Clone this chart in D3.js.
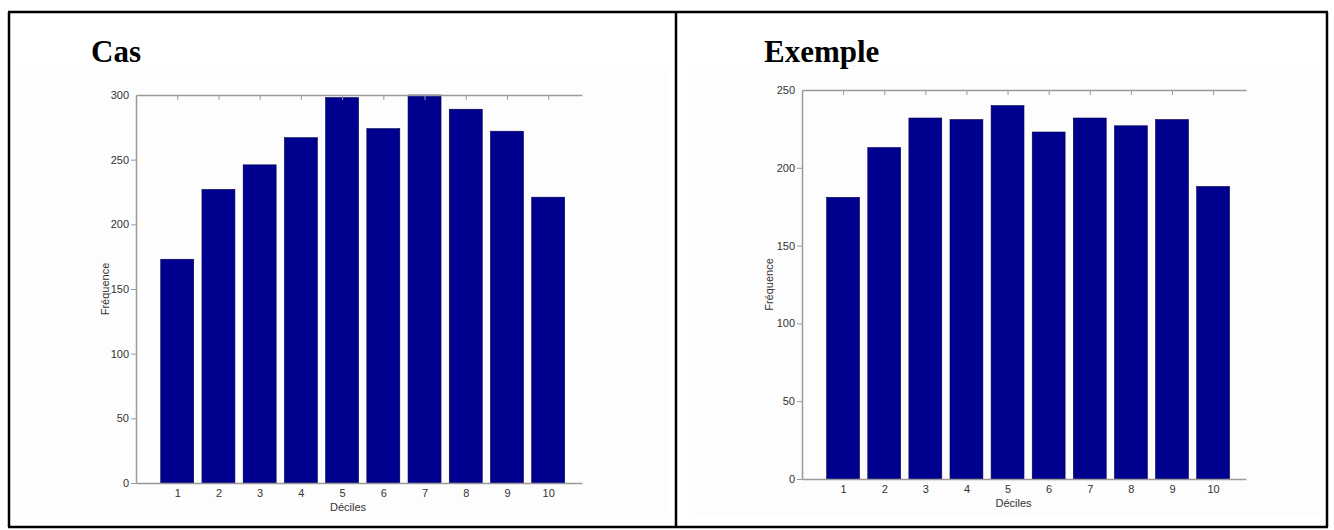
<!DOCTYPE html>
<html>
<head>
<meta charset="utf-8">
<script src="https://cdn.jsdelivr.net/npm/d3@7"></script>
<style>
  body { margin: 0; background: #fff; }
  svg { display: block; }
  .tick text { font-family: "Liberation Sans", Arial, sans-serif; font-size: 11px; fill: #333; }
</style>
</head>
<body>
<div id="chart"></div>
<script>
// deciles shared by both panels
const deciles = [1, 2, 3, 4, 5, 6, 7, 8, 9, 10];

// left panel "Cas"
const casValues = [173, 227, 246, 267, 298, 274, 300, 289, 272, 221];
const casTicks = [0, 50, 100, 150, 200, 250, 300];

// right panel "Exemple"
const exempleValues = [181, 213, 232, 231, 240, 223, 232, 227, 231, 188];
const exempleTicks = [0, 50, 100, 150, 200, 250];

const W = 1334, H = 530;
const barColor = '#00008f';
const axisColor = '#9a9a9a';

let svg = d3.select('#chart').append('svg')
    .attr('width', W)
    .attr('height', H);

// outer frame
let frame = svg.append('g').attr('stroke', '#000').attr('stroke-width', 2.5);
frame.append('line').attr('x1', 8).attr('x2', 1328).attr('y1', 12).attr('y2', 12);
frame.append('line').attr('x1', 8).attr('x2', 1328).attr('y1', 527).attr('y2', 527);
frame.append('line').attr('x1', 9).attr('x2', 9).attr('y1', 12).attr('y2', 527);
frame.append('line').attr('x1', 676).attr('x2', 676).attr('y1', 12).attr('y2', 527);
frame.append('line').attr('x1', 1327).attr('x2', 1327).attr('y1', 12).attr('y2', 527);

function drawPanel(p){
    // faint figure background
    svg.append('rect')
        .attr('x', p.bg[0]).attr('y', p.bg[1])
        .attr('width', p.bg[2]).attr('height', p.bg[3])
        .attr('fill', '#fdfdfd');

    svg.append('text')
        .attr('x', p.titleX).attr('y', 62)
        .attr('font-family', '"Liberation Serif", "Times New Roman", serif')
        .attr('font-weight', 'bold')
        .attr('font-size', 31)
        .attr('fill', '#000')
        .text(p.title);

    let x = d3.scaleLinear().domain(p.xDomain).range(p.xRange);
    let y = d3.scaleLinear().domain([0, d3.max(p.ticks)]).range(p.yRange);
    let bw = x(0.8) - x(0);

    let g = svg.append('g');

    // bars
    g.selectAll('rect.bar')
        .data(p.values).enter()
        .append('rect')
        .attr('class', 'bar')
        .attr('x', (d, i) => x(deciles[i]) - bw / 2)
        .attr('y', d => y(d))
        .attr('width', bw)
        .attr('height', d => y(0) - y(d))
        .attr('fill', barColor)
        .attr('stroke', '#000050')
        .attr('stroke-width', 0.6);

    // left axis
    let yAxis = g.append('g')
        .attr('transform', `translate(${p.xRange[0]},0)`)
        .call(d3.axisLeft(y).tickValues(p.ticks).tickSize(5).tickSizeOuter(0).tickPadding(2));

    // bottom axis
    let xAxis = g.append('g')
        .attr('transform', `translate(0,${p.yRange[0]})`)
        .call(d3.axisBottom(x).tickValues(deciles).tickSize(0).tickSizeOuter(0).tickPadding(6));

    // top line with inward ticks
    let topAxis = g.append('g')
        .attr('transform', `translate(0,${p.yRange[1]})`)
        .call(d3.axisTop(x).tickValues(deciles).tickSize(-5).tickSizeOuter(0).tickFormat(''));

    [yAxis, xAxis, topAxis].forEach(a => {
        a.select('.domain').attr('stroke', axisColor).attr('stroke-width', 1.5);
        a.selectAll('.tick line').attr('stroke', axisColor).attr('stroke-width', 1);
    });
    // the top tick of the y axis sits in the corner
    yAxis.selectAll('.tick line').filter(d => d === d3.max(p.ticks)).remove();

    // axis titles
    g.append('text')
        .attr('x', (p.xRange[0] + x(10)) / 2 + 6)
        .attr('y', p.yRange[0] + 28)
        .attr('text-anchor', 'middle')
        .attr('font-family', '"Liberation Sans", Arial, sans-serif')
        .attr('font-size', 11)
        .attr('fill', '#333')
        .text('Déciles');

    g.append('text')
        .attr('transform', `translate(${p.yLabelX},${(p.yRange[0] + p.yRange[1]) / 2}) rotate(-90)`)
        .attr('text-anchor', 'middle')
        .attr('font-family', '"Liberation Sans", Arial, sans-serif')
        .attr('font-size', 11)
        .attr('fill', '#333')
        .text('Fréquence');
}

drawPanel({
    title: 'Cas', titleX: 91,
    values: casValues, ticks: casTicks,
    xDomain: [0, 10.82], xRange: [136, 582],
    yRange: [483, 95],
    yLabelX: 109,
    bg: [22, 66, 645, 452]
});

drawPanel({
    title: 'Exemple', titleX: 764,
    values: exempleValues, ticks: exempleTicks,
    xDomain: [0, 10.8], xRange: [802, 1246],
    yRange: [479, 90],
    yLabelX: 773,
    bg: [690, 65, 630, 450]
});
</script>
</body>
</html>
